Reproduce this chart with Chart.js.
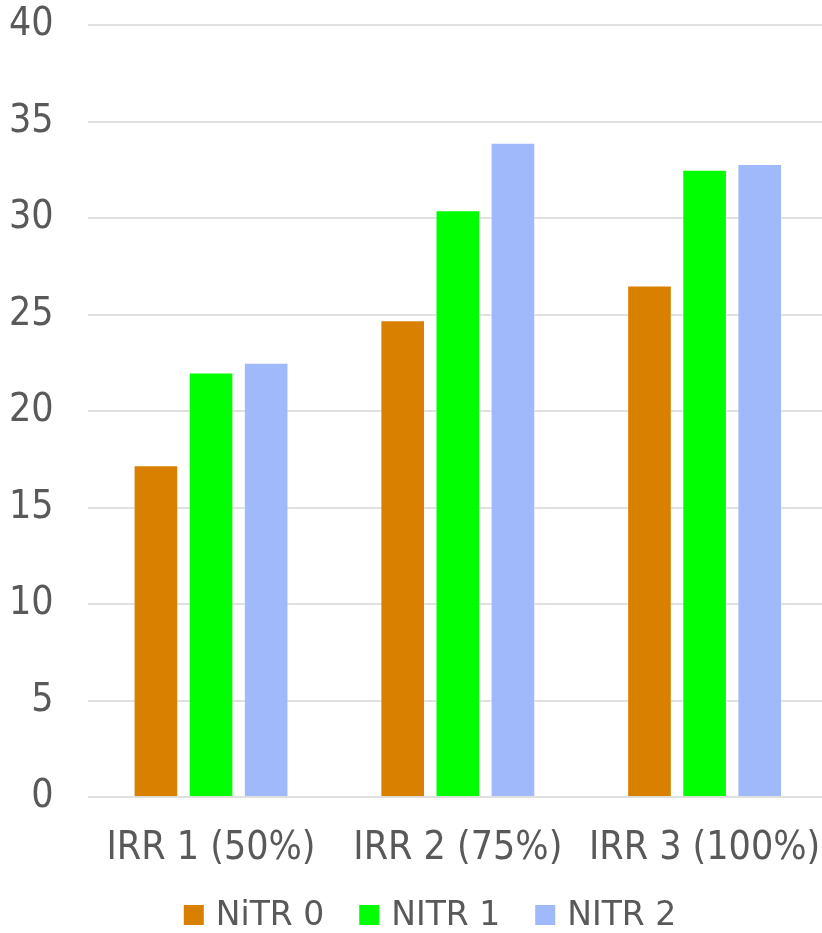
<!DOCTYPE html>
<html>
<head>
<meta charset="utf-8">
<script src="https://cdn.jsdelivr.net/npm/chart.js@4/dist/chart.umd.min.js"></script>
<style>
  html, body { margin: 0; padding: 0; background: #ffffff; overflow: hidden; }
  #wrap { width: 822px; height: 933px; overflow: hidden; }
  #chart { display: block; }
</style>
</head>
<body>
<!-- the canvas is a little wider than the frame so the plot runs off the right edge -->
<div id="wrap"><canvas id="chart" width="828" height="933"></canvas></div>
<script>
// Irrigation levels on the x axis
const categories = ['IRR 1 (50%)', 'IRR 2 (75%)', 'IRR 3 (100%)'];
// Nitrogen treatments
const nitr0 = [17.2, 24.7, 26.5];
const nitr1 = [22.0, 30.4, 32.5];
const nitr2 = [22.5, 33.9, 32.8];
const seriesNames = ['NiTR 0', 'NITR 1', 'NITR 2'];
const yTicks = [0, 5, 10, 15, 20, 25, 30, 35, 40];

const AXIS_FONT = '"DejaVu Sans Condensed", "DejaVu Sans", sans-serif';
const LEGEND_FONT = '"DejaVu Sans", sans-serif';
const TEXT = '#595959';

const makeSet = (label, data, color) => ({
  label, data,
  backgroundColor: color,
  borderColor: 'rgba(255,255,255,0.35)',
  borderWidth: 1,
  categoryPercentage: 0.67,
  barPercentage: 0.81
});

// Legend row under the x labels: square swatch, short gap, series name.
const bottomLegend = {
  id: 'bottomLegend',
  afterDraw(chart, args, opts) {
    const ctx = chart.ctx;
    const sets = chart.data.datasets;
    ctx.save();
    ctx.font = opts.size + 'px ' + opts.family;
    ctx.textBaseline = 'middle';
    ctx.textAlign = 'left';
    const widths = sets.map(ds => ctx.measureText(ds.label).width);
    const total = widths.reduce((a, w) => a + opts.box + opts.gap + w, 0) + opts.spacing * (sets.length - 1);
    let x = opts.centerX - total / 2;
    const y = opts.y;
    sets.forEach((ds, i) => {
      ctx.fillStyle = ds.backgroundColor;
      ctx.fillRect(x, y - opts.box / 2, opts.box, opts.box);
      x += opts.box + opts.gap;
      ctx.fillStyle = opts.color;
      ctx.fillText(ds.label, x, y + 1);
      x += widths[i] + opts.spacing;
    });
    ctx.restore();
  }
};

new Chart(document.getElementById('chart'), {
  type: 'bar',
  data: {
    labels: categories,
    datasets: [
      makeSet(seriesNames[0], nitr0, '#D98000'),
      makeSet(seriesNames[1], nitr1, '#00FF00'),
      makeSet(seriesNames[2], nitr2, '#A0B9FB')
    ]
  },
  plugins: [bottomLegend],
  options: {
    responsive: false,
    animation: false,
    layout: { padding: { left: 9, right: 0, top: 25, bottom: 61 } },
    plugins: {
      tooltip: { enabled: false },
      legend: { display: false },
      bottomLegend: {
        family: LEGEND_FONT, size: 33, color: TEXT,
        box: 20, gap: 12, spacing: 35, y: 915, centerX: 430
      }
    },
    scales: {
      x: {
        grid: { display: true, color: 'transparent', drawTicks: true, tickLength: 28, tickColor: 'transparent' },
        border: { display: false },
        ticks: { font: { family: AXIS_FONT, size: 39 }, color: TEXT, padding: 0 }
      },
      y: {
        min: 0, max: 40,
        afterBuildTicks: (axis) => { axis.ticks = yTicks.map(v => ({ value: v })); },
        grid: { color: '#e0e0e0', lineWidth: 2, drawTicks: true, tickLength: 34, tickColor: 'transparent' },
        border: { display: false },
        ticks: { font: { family: AXIS_FONT, size: 39 }, color: TEXT, padding: 0 }
      }
    }
  }
});
</script>
</body>
</html>
